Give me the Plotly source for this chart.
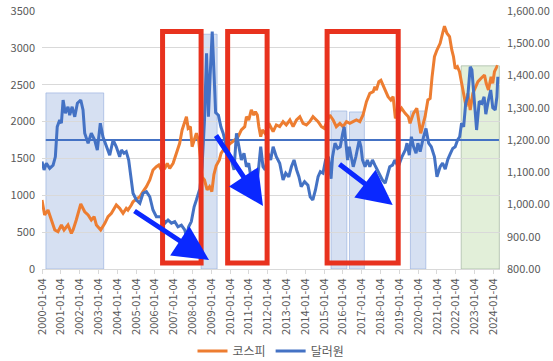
import plotly.graph_objects as go
import pandas as pd
import numpy as np

# ---------------- data ----------------
kospi_t = [2000.00, 2000.05, 2000.14, 2000.32, 2000.49, 2000.68, 2000.85, 2001.03, 2001.17, 2001.38,
           2001.56, 2001.65, 2001.82, 2002.06, 2002.27, 2002.45, 2002.62, 2002.77, 2002.89, 2003.12,
           2003.34, 2003.51, 2003.69, 2003.95, 2004.13, 2004.31, 2004.48, 2004.57, 2004.75, 2004.84,
           2004.96, 2005.20, 2005.37, 2005.55, 2005.73, 2005.90, 2006.08, 2006.21, 2006.35, 2006.53,
           2006.66, 2006.79, 2006.97, 2007.14, 2007.32, 2007.45, 2007.55, 2007.68, 2007.77, 2007.89,
           2007.98, 2008.09, 2008.21, 2008.34, 2008.42, 2008.51, 2008.64, 2008.78, 2008.91, 2009.03,
           2009.14, 2009.26, 2009.43, 2009.52, 2009.64, 2009.81, 2010.00, 2010.25, 2010.43, 2010.60,
           2010.78, 2010.87, 2010.99, 2011.13, 2011.26, 2011.35, 2011.45, 2011.53, 2011.63, 2011.72,
           2011.85, 2011.97, 2012.11, 2012.29, 2012.46, 2012.64, 2012.82, 2012.99, 2013.18, 2013.35,
           2013.53, 2013.71, 2013.88, 2014.06, 2014.24, 2014.41, 2014.51, 2014.68, 2014.86, 2015.00,
           2015.12, 2015.30, 2015.48, 2015.65, 2015.84, 2016.01, 2016.19, 2016.37, 2016.54, 2016.72,
           2016.90, 2017.07, 2017.25, 2017.43, 2017.61, 2017.70, 2017.78, 2017.91, 2018.02, 2018.13,
           2018.26, 2018.40, 2018.55, 2018.67, 2018.79, 2018.94, 2019.12, 2019.31, 2019.48, 2019.57,
           2019.75, 2019.93, 2020.02, 2020.14, 2020.23, 2020.37, 2020.52, 2020.64, 2020.74, 2020.87,
           2021.00, 2021.17, 2021.30, 2021.40, 2021.53, 2021.67, 2021.79, 2021.88, 2021.97, 2022.09,
           2022.20, 2022.32, 2022.45, 2022.55, 2022.64, 2022.77, 2022.91, 2023.03, 2023.18, 2023.35,
           2023.53, 2023.62, 2023.74, 2023.88, 2023.97, 2024.06, 2024.19, 2024.24]
kospi = [936, 845, 733, 800, 665, 529, 506, 597, 529, 597,
         484, 529, 665, 882, 777, 733, 665, 710, 597, 529,
         620, 710, 756, 868, 823, 756, 823, 800, 868, 913,
         936, 981, 1049, 1117, 1207, 1343, 1388, 1411, 1343, 1366,
         1434, 1366, 1434, 1570, 1705, 1886, 1954, 2066, 1909, 1931,
         1659, 1750, 1841, 1727, 1500, 1250, 1207, 1072, 1117, 1049,
         1280, 1400, 1479, 1570, 1614, 1659, 1700, 1750, 1795, 1886,
         1931, 2066, 2021, 2157, 2089, 2134, 2089, 1931, 1795, 1886,
         1841, 1900, 1954, 1863, 1954, 1931, 1999, 1954, 2021, 1931,
         2021, 2066, 1976, 1954, 1999, 2066, 2044, 1999, 1931, 1909,
         1976, 2089, 2021, 1931, 1976, 1931, 1999, 1976, 1999, 2021,
         1999, 2089, 2270, 2383, 2405, 2473, 2428, 2541, 2560, 2500,
         2428, 2338, 2293, 2338, 2044, 2112, 2180, 2112, 2066, 1976,
         2112, 2180, 2021, 1841, 1931, 2066, 2293, 2315, 2600, 2880,
         2971, 3062, 3198, 3295, 3198, 3153, 2971, 2880, 2720, 2745,
         2677, 2519, 2338, 2202, 2383, 2157, 2383, 2451, 2541, 2587,
         2632, 2519, 2428, 2609, 2519, 2677, 2745, 2740]

usd_t = [2000.00, 2000.11, 2000.23, 2000.41, 2000.59, 2000.71, 2000.81, 2000.94, 2001.03, 2001.12,
         2001.24, 2001.38, 2001.47, 2001.60, 2001.74, 2001.88, 2002.06, 2002.18, 2002.27, 2002.45,
         2002.62, 2002.80, 2002.94, 2003.10, 2003.24, 2003.42, 2003.60, 2003.78, 2003.95, 2004.13,
         2004.22, 2004.36, 2004.48, 2004.61, 2004.75, 2004.84, 2005.02, 2005.20, 2005.37, 2005.55,
         2005.73, 2005.90, 2006.08, 2006.26, 2006.44, 2006.53, 2006.70, 2006.88, 2007.06, 2007.23,
         2007.41, 2007.59, 2007.68, 2007.80, 2007.94, 2008.09, 2008.21, 2008.34, 2008.40, 2008.51,
         2008.64, 2008.75, 2008.85, 2008.94, 2009.05, 2009.15, 2009.23, 2009.38, 2009.51, 2009.63,
         2009.81, 2010.07, 2010.21, 2010.34, 2010.46, 2010.60, 2010.74, 2010.87, 2010.99, 2011.13,
         2011.27, 2011.40, 2011.49, 2011.63, 2011.75, 2011.87, 2012.02, 2012.16, 2012.29, 2012.46,
         2012.64, 2012.82, 2012.96, 2013.12, 2013.26, 2013.40, 2013.54, 2013.66, 2013.78, 2013.96,
         2014.14, 2014.26, 2014.40, 2014.54, 2014.68, 2014.80, 2014.94, 2015.08, 2015.23, 2015.37,
         2015.45, 2015.58, 2015.72, 2015.86, 2015.99, 2016.07, 2016.16, 2016.25, 2016.34, 2016.43,
         2016.55, 2016.69, 2016.87, 2016.96, 2017.04, 2017.18, 2017.30, 2017.43, 2017.57, 2017.70,
         2017.82, 2017.96, 2018.10, 2018.25, 2018.35, 2018.49, 2018.64, 2018.76, 2018.94, 2019.14,
         2019.32, 2019.41, 2019.53, 2019.64, 2019.76, 2019.89, 2019.99, 2020.11, 2020.29, 2020.42,
         2020.56, 2020.70, 2020.87, 2021.00, 2021.17, 2021.30, 2021.44, 2021.58, 2021.70, 2021.84,
         2021.97, 2022.10, 2022.21, 2022.31, 2022.42, 2022.53, 2022.64, 2022.77, 2022.86, 2022.99,
         2023.11, 2023.25, 2023.39, 2023.51, 2023.60, 2023.74, 2023.86, 2023.97, 2024.10, 2024.19,
         2024.24]
usd = [1133, 1107, 1128, 1112, 1122, 1148, 1241, 1262, 1252, 1324,
       1283, 1303, 1277, 1303, 1272, 1314, 1324, 1293, 1221, 1190,
       1221, 1200, 1169, 1252, 1210, 1179, 1153, 1200, 1179, 1148,
       1169, 1159, 1164, 1138, 1076, 1035, 1014, 1004, 1035, 1040,
       1024, 983, 962, 962, 957, 942, 952, 942, 947, 931,
       936, 921, 900, 931, 947, 993, 1014, 1045, 1050, 1117,
       1260, 1469, 1272, 1400, 1536, 1400, 1285, 1277, 1241, 1221,
       1179, 1138, 1107, 1221, 1179, 1138, 1159, 1117, 1128, 1076,
       1097, 1066, 1097, 1179, 1117, 1107, 1159, 1138, 1179, 1148,
       1128, 1076, 1097, 1086, 1117, 1138, 1107, 1086, 1055, 1071,
       1060, 1024, 1014, 1045, 1086, 1102, 1097, 1138, 1148, 1080,
       1148, 1190, 1174, 1179, 1221, 1241, 1190, 1138, 1179, 1148,
       1117, 1148, 1200, 1179, 1138, 1117, 1138, 1117, 1138, 1122,
       1107, 1091, 1076, 1066, 1091, 1117, 1122, 1138, 1117, 1148,
       1169, 1190, 1153, 1210, 1179, 1159, 1190, 1164, 1210, 1236,
       1190, 1179, 1148, 1086, 1117, 1128, 1110, 1140, 1156, 1174,
       1179, 1200, 1210, 1252, 1241, 1314, 1334, 1427, 1417, 1324,
       1231, 1320, 1314, 1334, 1280, 1324, 1355, 1300, 1293, 1334,
       1396]

# reference level and highlighted periods (start year, end year, top level on right axis)
ref_level = 1200
ref_span = [2000.2, 2024.3]
blue_periods = [(2000.21, 2003.28, 1346), (2008.46, 2009.31, 1528), (2015.37, 2016.21, 1290),
                (2016.35, 2017.14, 1287), (2019.59, 2020.41, 1290)]
green_period = (2022.29, 2024.32, 1430)
red_periods = [(2006.41, 2008.46), (2009.87, 2011.97), (2015.16, 2018.94)]
x_end = 2024.355

tick_years = list(range(2000, 2025))
tick_text = [f"{y}-01-04" for y in tick_years]


def to_date(t):
    y = int(np.floor(t))
    return pd.Timestamp(year=y, month=1, day=4) + pd.Timedelta(days=(t - y) * 365.25)


kx = [to_date(t) for t in kospi_t]
ux = [to_date(t) for t in usd_t]

ORANGE = "#ED7D31"
BLUE = "#4472C4"
GRID = "#D9D9D9"
TXT = "#595959"
FONT = "Noto Sans CJK KR, Noto Sans, sans-serif"

fig = go.Figure()
fig.add_trace(go.Scatter(x=kx, y=kospi, name="코스피", mode="lines",
                         line=dict(color=ORANGE, width=3), yaxis="y"))
fig.add_trace(go.Scatter(x=ux, y=usd, name="달러원", mode="lines",
                         line=dict(color=BLUE, width=3), yaxis="y2"))

shapes = []
for a, b, top in blue_periods:
    shapes.append(dict(type="rect", xref="x", yref="y2", x0=to_date(a), x1=to_date(b),
                       y0=800, y1=top, fillcolor="rgba(180,199,231,0.55)",
                       line=dict(color="rgba(143,170,220,0.6)", width=1), layer="below"))
a, b, top = green_period
shapes.append(dict(type="rect", xref="x", yref="y2", x0=to_date(a), x1=to_date(b),
                   y0=800, y1=top, fillcolor="rgba(197,224,180,0.5)",
                   line=dict(color="rgba(150,170,150,0.6)", width=1), layer="below"))
shapes.append(dict(type="line", xref="x", yref="y2", x0=to_date(ref_span[0]), x1=to_date(ref_span[1]),
                   y0=ref_level, y1=ref_level, line=dict(color=BLUE, width=2), layer="below"))
for a, b in red_periods:
    shapes.append(dict(type="rect", xref="x", yref="paper", x0=to_date(a), x1=to_date(b),
                       y0=0.023, y1=0.9205, line=dict(color="#E8321E", width=5),
                       fillcolor="rgba(0,0,0,0)", layer="above"))

arrows = [((209, 260), (133, 210)), ((263, 206), (215, 134)), ((392.7, 205), (338, 163))]
annotations = []
for (hx, hy), (tx, ty) in arrows:
    annotations.append(dict(xref="paper", yref="paper", x=(hx - 42) / 458, y=(269 - hy) / 258,
                            ax=tx - hx, ay=ty - hy, axref="pixel", ayref="pixel",
                            text="", showarrow=True, arrowhead=2, arrowsize=1.4,
                            arrowwidth=5, arrowcolor="#0A28FF"))

fig.update_layout(
    width=553, height=361,
    margin=dict(l=42, r=53, t=11, b=92, autoexpand=False),
    paper_bgcolor="white", plot_bgcolor="white",
    font=dict(family=FONT, size=11, color=TXT),
    showlegend=True,
    legend=dict(orientation="h", x=0.5, xanchor="center", y=-0.318, yanchor="middle",
                font=dict(size=12, color=TXT), itemwidth=30, tracegroupgap=0),
    shapes=shapes, annotations=annotations,
    xaxis=dict(type="date", range=[to_date(2000.0), to_date(x_end)],
               tickvals=[to_date(float(y)) for y in tick_years], ticktext=tick_text,
               tickangle=-90, showgrid=False, showline=True, linecolor=GRID, linewidth=1,
               ticks="outside", ticklen=4, tickcolor=GRID, tickfont=dict(size=11, color=TXT),
               automargin=False),
    yaxis=dict(range=[0, 3500], dtick=500, showgrid=True, gridcolor=GRID, gridwidth=1,
               zeroline=False, showline=False, tickfont=dict(size=11, color=TXT),
               ticklabelstandoff=6, automargin=False),
    yaxis2=dict(range=[800, 1600], dtick=100, overlaying="y", side="right", showgrid=False,
                zeroline=False, showline=False, tickformat=",.2f",
                tickfont=dict(size=11, color=TXT), ticklabelstandoff=6, automargin=False),
)

fig.write_html("out.html", config={"displayModeBar": False},
               post_script="document.body.style.margin='0';")
